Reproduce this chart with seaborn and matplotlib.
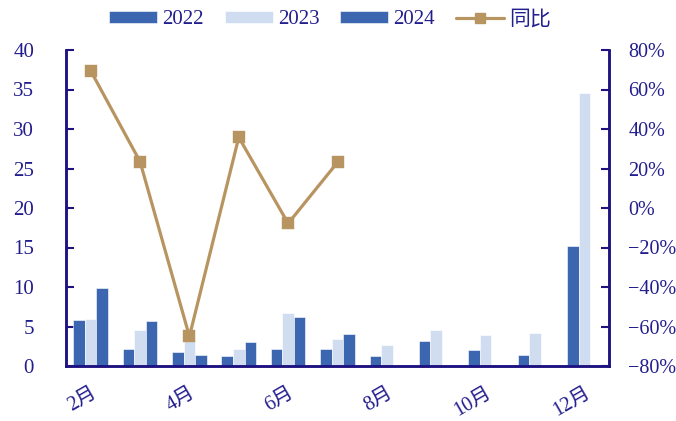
import numpy as np
import pandas as pd
import matplotlib
matplotlib.use("Agg")
import matplotlib.pyplot as plt
from matplotlib.ticker import FuncFormatter, FixedLocator
from matplotlib.lines import Line2D
import seaborn as sns

months = ['2月', '3月', '4月', '5月', '6月', '7月', '8月', '9月', '10月', '11月', '12月']
v2022 = [5.8, 2.2, 1.8, 1.3, 2.2, 2.1, 1.3, 3.2, 2.0, 1.4, 15.2]
v2023 = [5.9, 4.6, 3.7, 2.2, 6.7, 3.4, 2.7, 4.6, 3.9, 4.2, 34.6]
v2024 = [9.9, 5.7, 1.4, 3.0, 6.2, 4.1, np.nan, np.nan, np.nan, np.nan, np.nan]
yoy = [69.5, 23.5, -65.0, 35.8, -7.8, 23.1, np.nan, np.nan, np.nan, np.nan, np.nan]
years = ['2022', '2023', '2024']
shown_labels = ['2月', '', '4月', '', '6月', '', '8月', '', '10月', '', '12月']

DARK = '#3D66B0'
LIGHT = '#D0DDF0'
LINE = '#B89460'
TEXT = '#231E8E'
AXC = '#1D1280'

sns.set_style('white')
plt.rcParams['font.family'] = ['Liberation Serif', 'Noto Sans CJK SC', 'DejaVu Sans']
plt.rcParams['axes.unicode_minus'] = True

rows = []
for yr, vals in zip(years, [v2022, v2023, v2024]):
    for m, v in zip(months, vals):
        rows.append({'month': m, 'year': yr, 'value': v})
df = pd.DataFrame(rows)
line_df = pd.DataFrame({'month': months, 'yoy': yoy})

fig = plt.figure(figsize=(6.76, 4.21), dpi=100)
ax = fig.add_axes([66 / 676, 1 - 366 / 421, (609 - 66) / 676, (366 - 50) / 421])

sns.barplot(data=df, x='month', y='value', hue='year', order=months, hue_order=years,
            palette={'2022': DARK, '2023': LIGHT, '2024': DARK}, width=0.7, saturation=1,
            edgecolor='white', linewidth=0.4, ax=ax, legend=True)
handles, labels = ax.get_legend_handles_labels()
if ax.get_legend() is not None:
    ax.get_legend().remove()

ax2 = ax.twinx()
sns.pointplot(data=line_df, x='month', y='yoy', order=months, color=LINE, markers='s',
              linestyles='-', markersize=7, linewidth=2.3, errorbar=None, ax=ax2)

ax.set_xlim(-0.5, len(months) - 0.5)
ax.set_ylim(0, 40)
ax.set_yticks(np.arange(0, 41, 5))
ax2.set_ylim(-80, 80)
ax2.set_yticks(np.arange(-80, 81, 20))
ax2.yaxis.set_major_formatter(FuncFormatter(lambda v, p: f"{v:.0f}%".replace('-', '\u2212')))

ax.set_xlabel('')
ax.set_ylabel('')
ax2.set_xlabel('')
ax2.set_ylabel('')

ax.set_xticks(range(len(months)))
ax.set_xticklabels(shown_labels, rotation=30, ha='right', rotation_mode='anchor',
                   color=TEXT, fontsize=14.5)
ax.tick_params(axis='x', length=0, pad=13)
ax.xaxis.set_minor_locator(FixedLocator(np.arange(0.5, len(months) - 0.5, 1)))
ax.tick_params(axis='x', which='minor', direction='in', length=5, width=1.5, color=AXC)

ax.tick_params(axis='y', direction='in', length=6, width=1.5, color=AXC,
               labelcolor=TEXT, labelsize=15, pad=23)
ax2.tick_params(axis='y', direction='in', length=6, width=1.5, color=AXC,
                labelcolor=TEXT, labelsize=14.5, pad=14)

for a in (ax, ax2):
    a.spines['top'].set_visible(False)
    for s in ('left', 'right', 'bottom'):
        a.spines[s].set_color(AXC)
        a.spines[s].set_linewidth(1.8)
    a.grid(False)

line_handle = Line2D([0], [0], color=LINE, lw=2.3, marker='s', markersize=7)
leg = fig.legend(handles + [line_handle], labels + ['同比'], loc='center',
                 bbox_to_anchor=(330 / 676, 1 - 20 / 421), ncol=4, frameon=False,
                 fontsize=15, handlelength=2.3, handleheight=0.55, handletextpad=0.25,
                 columnspacing=1.0, labelcolor=TEXT)

fig.savefig('out.png', dpi=100)
